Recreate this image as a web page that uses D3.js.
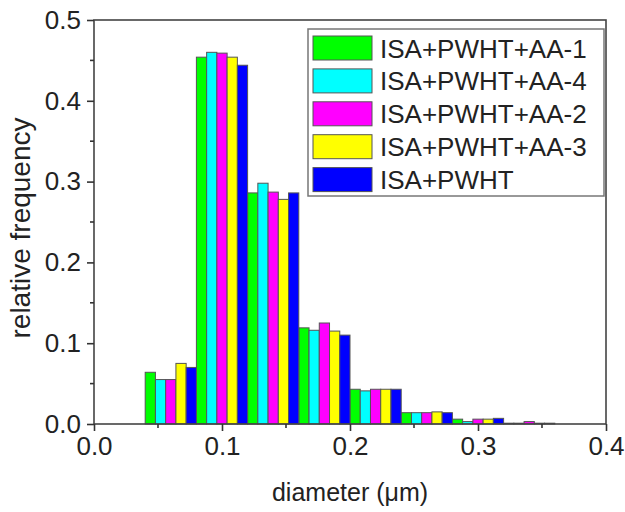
<!DOCTYPE html>
<html>
<head>
<meta charset="utf-8">
<script src="https://cdn.jsdelivr.net/npm/d3@7/dist/d3.min.js"></script>
<style>
  html, body { margin: 0; padding: 0; background: #fff; }
  svg { display: block; font-family: "Liberation Sans", Arial, sans-serif; }
</style>
</head>
<body>
<svg id="chart" width="625" height="512"></svg>
<script>
// Size distribution bins (lower edge, µm); each bin is 0.04 µm wide
const binStarts = [0.04, 0.08, 0.12, 0.16, 0.20, 0.24, 0.28, 0.32];
const binWidth = 0.04;

// Series, in the order they appear in each bin and in the legend
const seriesNames = ["ISA+PWHT+AA-1", "ISA+PWHT+AA-4", "ISA+PWHT+AA-2", "ISA+PWHT+AA-3", "ISA+PWHT"];
const seriesColors = ["#00ff00", "#00ffff", "#ff00ff", "#ffff00", "#0000ff"];

const aa1  = [0.064, 0.454, 0.286, 0.119, 0.043, 0.014, 0.006, 0.001];
const aa4  = [0.055, 0.460, 0.298, 0.116, 0.041, 0.014, 0.003, 0.001];
const aa2  = [0.055, 0.459, 0.287, 0.125, 0.043, 0.014, 0.006, 0.003];
const aa3  = [0.075, 0.454, 0.278, 0.115, 0.043, 0.015, 0.006, 0.001];
const pwht = [0.070, 0.444, 0.286, 0.110, 0.043, 0.014, 0.007, 0.001];
const seriesValues = [aa1, aa4, aa2, aa3, pwht];

const xTicks = [0.0, 0.1, 0.2, 0.3, 0.4];
const yTicks = [0.0, 0.1, 0.2, 0.3, 0.4, 0.5];

const svg = d3.select("#chart");
const plotL = 94, plotR = 606, plotT = 20, plotB = 424;

const x = d3.scaleLinear().domain([0, 0.4]).range([plotL, plotR]);
const y = d3.scaleLinear().domain([0, 0.5]).range([plotB, plotT]);

// Position of each series inside a bin
const sub = d3.scaleBand()
  .domain(seriesNames)
  .range([0, x(binWidth) - x(0)])
  .padding(0);

// Bars
const rows = [];
seriesNames.forEach((name, si) => {
  binStarts.forEach((b, bi) => {
    rows.push({ name, color: seriesColors[si], bin: b, value: seriesValues[si][bi] });
  });
});

svg.append("g")
  .selectAll("rect")
  .data(rows)
  .join("rect")
  .attr("x", d => x(d.bin) + sub(d.name))
  .attr("y", d => y(d.value))
  .attr("width", sub.bandwidth())
  .attr("height", d => y(0) - y(d.value))
  .attr("fill", d => d.color)
  .attr("stroke", "#555")
  .attr("stroke-width", 1);

// Frame
svg.append("rect")
  .attr("x", plotL).attr("y", plotT)
  .attr("width", plotR - plotL).attr("height", plotB - plotT)
  .attr("fill", "none")
  .attr("stroke", "#444")
  .attr("stroke-width", 1.6);

// Bottom axis: major ticks with labels, minor ticks between
const xMinor = d3.range(0.05, 0.4, 0.1);
const xAxis = d3.axisBottom(x)
  .tickValues(xTicks)
  .tickFormat(d3.format(".1f"))
  .tickSize(7)
  .tickPadding(6);
const gx = svg.append("g").attr("transform", `translate(0,${plotB})`).call(xAxis);
gx.select(".domain").remove();
gx.selectAll(".tick line").attr("stroke", "#333").attr("stroke-width", 1.6);
gx.selectAll(".tick text").attr("font-size", 26).attr("fill", "#222")
  .attr("font-family", "Liberation Sans, Arial, sans-serif");
svg.append("g").selectAll("line").data(xMinor).join("line")
  .attr("x1", d => x(d)).attr("x2", d => x(d))
  .attr("y1", plotB).attr("y2", plotB + 4)
  .attr("stroke", "#333").attr("stroke-width", 1.6);

// Left axis
const yMinor = d3.range(0.05, 0.5, 0.1);
const yAxis = d3.axisLeft(y)
  .tickValues(yTicks)
  .tickFormat(d3.format(".1f"))
  .tickSize(7)
  .tickPadding(6);
const gy = svg.append("g").attr("transform", `translate(${plotL},0)`).call(yAxis);
gy.select(".domain").remove();
gy.selectAll(".tick line").attr("stroke", "#333").attr("stroke-width", 1.6);
gy.selectAll(".tick text").attr("font-size", 26).attr("fill", "#222")
  .attr("font-family", "Liberation Sans, Arial, sans-serif");
svg.append("g").selectAll("line").data(yMinor).join("line")
  .attr("x1", plotL - 4).attr("x2", plotL)
  .attr("y1", d => y(d)).attr("y2", d => y(d))
  .attr("stroke", "#333").attr("stroke-width", 1.6);

// Axis titles
svg.append("text")
  .attr("x", 350).attr("y", 501)
  .attr("text-anchor", "middle")
  .attr("font-size", 25).attr("fill", "#222")
  .text("diameter (\u03bcm)");

svg.append("text")
  .attr("transform", `translate(30,228) rotate(-90)`)
  .attr("text-anchor", "middle")
  .attr("font-size", 28).attr("fill", "#222")
  .text("relative frequency");

// Legend
const lg = svg.append("g").attr("transform", "translate(308,29)");
lg.append("rect")
  .attr("width", 296).attr("height", 167)
  .attr("fill", "#fff").attr("stroke", "#777").attr("stroke-width", 1.5);
const items = lg.selectAll("g.item")
  .data(seriesNames.map((n, i) => ({ name: n, color: seriesColors[i] })))
  .join("g")
  .attr("class", "item")
  .attr("transform", (d, i) => `translate(5,${7 + i * 32.9})`);
items.append("rect")
  .attr("width", 59).attr("height", 24)
  .attr("fill", d => d.color)
  .attr("stroke", "#555").attr("stroke-width", 1);
items.append("text")
  .attr("x", 67).attr("y", 21.5)
  .attr("font-size", 26).attr("fill", "#222")
  .text(d => d.name);
</script>
</body>
</html>
